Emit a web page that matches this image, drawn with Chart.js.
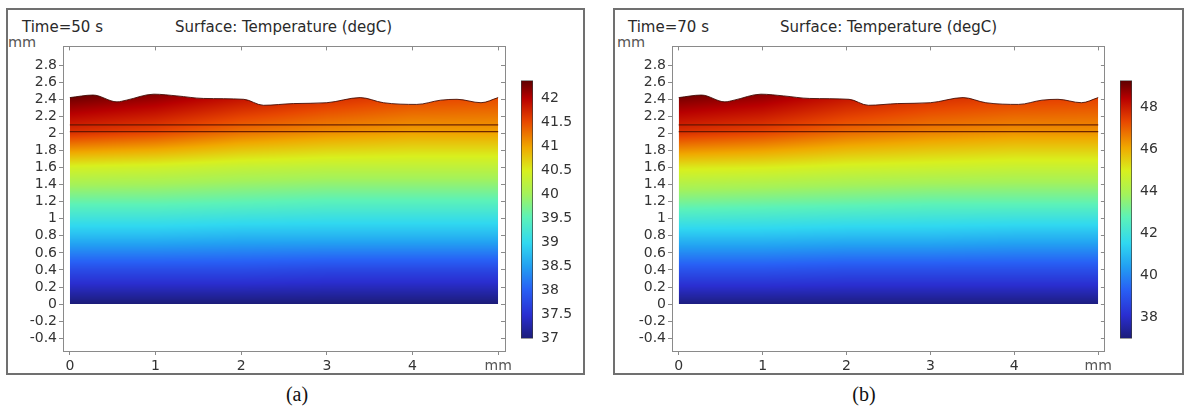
<!DOCTYPE html>
<html>
<head>
<meta charset="utf-8">
<script src="https://cdn.jsdelivr.net/npm/chart.js@4/dist/chart.umd.min.js"></script>
<style>
  html, body { margin: 0; padding: 0; background: #fff; }
  body { width: 1186px; height: 409px; position: relative; overflow: hidden;
         font-family: "DejaVu Sans", sans-serif; color: #2a2a2a; }
  .frame { position: absolute; top: 8px; height: 367px; border: 2px solid #707070; box-sizing: border-box; }
  .lbl { position: absolute; font-size: 14px; line-height: 14px; white-space: nowrap; }
  .ttl { font-size: 15px; line-height: 15px; }
  .unit { color: #555; font-size: 14.5px; }
  .cap { position: absolute; top: 384px; font-family: "Liberation Serif", "Times New Roman", serif;
         font-size: 20px; line-height: 20px; transform: translateX(-50%); color: #111; }
  canvas { position: absolute; }
</style>
</head>
<body>
<div class="frame" style="left:6px;width:579px"></div>
<div class="frame" style="left:613px;width:571px"></div>

<div class="lbl ttl" style="left:22px;top:20px">Time=50 s</div>
<div class="lbl ttl" style="left:175px;top:20px">Surface: Temperature (degC)</div>
<div class="lbl unit" style="left:8px;top:35px">mm</div>

<div class="lbl ttl" style="left:628px;top:20px">Time=70 s</div>
<div class="lbl ttl" style="left:780px;top:20px">Surface: Temperature (degC)</div>
<div class="lbl unit" style="left:617px;top:35px">mm</div>

<canvas id="field50" width="492" height="340" style="left:23px;top:36px"></canvas>
<canvas id="bar50" width="60" height="291" style="left:521px;top:64px"></canvas>
<canvas id="field70" width="483" height="340" style="left:632px;top:36px"></canvas>
<canvas id="bar70" width="60" height="291" style="left:1120px;top:64px"></canvas>

<div class="cap" style="left:297px">(a)</div>
<div class="cap" style="left:864px">(b)</div>

<script>
// ---- axis ticks ----
const xTickValues = [0, 1, 2, 3, 4, 5];
const xTickLabels = ['0', '1', '2', '3', '4', 'mm'];
const yTickValues = [-0.4, -0.2, 0, 0.2, 0.4, 0.6, 0.8, 1, 1.2, 1.4, 1.6, 1.8, 2, 2.2, 2.4, 2.6, 2.8];

// ---- geometry of the tissue domain (mm) ----
const surfaceX = [0, 0.27, 0.55, 0.66, 0.98, 1.25, 1.56, 2.03, 2.26, 2.61, 3.0, 3.39, 3.66, 4.05, 4.33, 4.52, 4.8, 5.0];
const surfaceY = [2.42, 2.45, 2.37, 2.39, 2.46, 2.44, 2.41, 2.40, 2.33, 2.35, 2.36, 2.42, 2.36, 2.34, 2.39, 2.40, 2.36, 2.42];
const interfaceLevels = [2.02, 2.1];

// ---- temperature readings (degC): one column per x position, rows by height ----
const fieldX = [0, 1, 2, 3, 4, 5];
const fieldHeights = [0, 0.4, 0.8, 1.2, 1.6, 2.0, 2.45];
const temp50s = [
  [37.0, 37.8, 38.75, 39.6, 40.45, 41.65, 42.35],
  [37.0, 37.8, 38.75, 39.6, 40.4, 41.5, 42.2],
  [37.0, 37.8, 38.7, 39.55, 40.3, 41.25, 41.95],
  [37.0, 37.75, 38.7, 39.5, 40.25, 41.1, 41.75],
  [37.0, 37.75, 38.7, 39.5, 40.25, 41.0, 41.6],
  [37.0, 37.75, 38.7, 39.5, 40.25, 41.0, 41.55]
];
const temp70s = [
  [37.1, 39.0, 41.1, 43.2, 45.1, 47.6, 49.1],
  [37.1, 39.0, 41.1, 43.1, 45.0, 47.3, 48.8],
  [37.1, 38.9, 41.0, 43.0, 44.8, 46.8, 48.2],
  [37.1, 38.9, 41.0, 42.9, 44.7, 46.5, 47.8],
  [37.1, 38.9, 40.9, 42.9, 44.6, 46.3, 47.6],
  [37.1, 38.9, 40.9, 42.9, 44.6, 46.3, 47.5]
];

// ---- colour legends ----
const range50 = [37, 42.38];
const range70 = [37, 49.27];
const ticks50 = [37, 37.5, 38, 38.5, 39, 39.5, 40, 40.5, 41, 41.5, 42];
const ticks70 = [38, 40, 42, 44, 46, 48];

// rainbow colour table
const RAINBOW = [
  [0.00, '#1c1c78'], [0.09, '#2a2ed0'], [0.19, '#2860f5'], [0.28, '#22a0f2'],
  [0.37, '#30d8f0'], [0.47, '#5cf2b8'], [0.56, '#a4f25a'], [0.65, '#d8f01e'],
  [0.74, '#f0a800'], [0.84, '#e84800'], [0.93, '#b80000'], [1.00, '#5c0000']
];
const AXIS = '#8a8a8a';
const TEXT = '#333333';
const FONT = { family: 'DejaVu Sans', size: 14 };

const rainbowRgb = RAINBOW.map(([t, c]) => [t, [1, 3, 5].map(i => parseInt(c.slice(i, i + 2), 16))]);
function rainbow(t) {
  t = Math.min(1, Math.max(0, t));
  for (let i = 0; i < rainbowRgb.length - 1; i++) {
    const [t0, c0] = rainbowRgb[i], [t1, c1] = rainbowRgb[i + 1];
    if (t <= t1) {
      const f = (t - t0) / (t1 - t0);
      return c0.map((v, k) => Math.round(v + (c1[k] - v) * f));
    }
  }
  return rainbowRgb[rainbowRgb.length - 1][1];
}

function locate(arr, v) {
  v = Math.min(arr[arr.length - 1], Math.max(arr[0], v));
  let i = 0;
  while (i < arr.length - 2 && v > arr[i + 1]) i++;
  return [i, (v - arr[i]) / (arr[i + 1] - arr[i])];
}
function tempAt(temps, xv, yv) {
  const [i, fx] = locate(fieldX, xv);
  const [j, fy] = locate(fieldHeights, yv);
  const a = temps[i][j] + (temps[i][j + 1] - temps[i][j]) * fy;
  const b = temps[i + 1][j] + (temps[i + 1][j + 1] - temps[i + 1][j]) * fy;
  return a + (b - a) * fx;
}

// shaded temperature field, painted through the chart's own scales
function fieldPattern(chart, temps, range) {
  const area = chart.chartArea;
  if (!area) return 'rgba(0,0,0,0)';
  const key = [area.left, area.top, area.right, area.bottom].join(',');
  if (chart.$fieldKey === key) return chart.$fieldPattern;
  const xs = chart.scales.x, ys = chart.scales.y;
  const w = chart.canvas.width, h = chart.canvas.height;
  const off = document.createElement('canvas');
  off.width = w; off.height = h;
  const octx = off.getContext('2d');
  const img = octx.createImageData(w, h);
  const x0 = Math.max(0, Math.floor(xs.getPixelForValue(fieldX[0])) - 1);
  const x1 = Math.min(w, Math.ceil(xs.getPixelForValue(fieldX[fieldX.length - 1])) + 2);
  const y0 = Math.max(0, Math.floor(ys.getPixelForValue(2.6)));
  const y1 = Math.min(h, Math.ceil(ys.getPixelForValue(0)) + 2);
  for (let py = y0; py < y1; py++) {
    const yv = ys.getValueForPixel(py + 0.5);
    for (let px = x0; px < x1; px++) {
      const xv = xs.getValueForPixel(px + 0.5);
      const c = rainbow((tempAt(temps, xv, yv) - range[0]) / (range[1] - range[0]));
      const k = (py * w + px) * 4;
      img.data[k] = c[0]; img.data[k + 1] = c[1]; img.data[k + 2] = c[2]; img.data[k + 3] = 255;
    }
  }
  octx.putImageData(img, 0, 0);
  const pattern = chart.ctx.createPattern(off, 'no-repeat');
  chart.$fieldKey = key;
  chart.$fieldPattern = pattern;
  return pattern;
}

function fixedTicks(values) {
  return scale => { scale.ticks = values.map(v => ({ value: v })); };
}

function fieldChart(id, temps, range) {
  const last = surfaceX.length - 1;
  const datasets = [{
    data: surfaceX.map((x, i) => ({ x, y: surfaceY[i] })),
    borderColor: 'rgba(60,8,0,0.85)', borderWidth: 1, pointRadius: 0,
    tension: 0.4, cubicInterpolationMode: 'monotone', fill: 'origin', order: 1,
    backgroundColor: ctx => fieldPattern(ctx.chart, temps, range)
  }];
  // layer interfaces drawn on top of the shaded field
  interfaceLevels.forEach(lv => datasets.push({
    data: [{ x: surfaceX[0], y: lv }, { x: surfaceX[last], y: lv }],
    borderColor: 'rgba(85,18,0,0.85)', borderWidth: 1.2, pointRadius: 0, fill: false, order: 0
  }));
  return new Chart(document.getElementById(id), {
    type: 'line',
    data: { datasets },
    options: {
      responsive: false, animation: false, events: [],
      layout: { padding: { top: 6, right: 10, left: 0, bottom: 0 } },
      plugins: { legend: { display: false }, tooltip: { enabled: false } },
      scales: {
        x: {
          type: 'linear', min: -0.08, max: 5.08,
          afterBuildTicks: fixedTicks(xTickValues), afterFit: s => { s.height = 25; },
          grid: { drawOnChartArea: false, tickLength: 4, color: AXIS },
          border: { color: AXIS },
          ticks: {
            autoSkip: false, maxRotation: 0, padding: 3,
            color: c => (c.tick && c.tick.value === 5 ? '#555' : TEXT), font: FONT,
            callback: v => xTickLabels[xTickValues.indexOf(v)]
          }
        },
        y: {
          type: 'linear', min: -0.55, max: 3.02,
          afterBuildTicks: fixedTicks(yTickValues), afterFit: s => { s.width = 40; },
          grid: { drawOnChartArea: false, tickLength: 4, color: AXIS },
          border: { color: AXIS },
          ticks: { autoSkip: false, padding: 2, color: TEXT, font: FONT, callback: v => String(+v.toFixed(1)) }
        },
        x2: {
          type: 'linear', position: 'top', min: -0.08, max: 5.08,
          afterBuildTicks: fixedTicks(xTickValues), afterFit: s => { s.height = 0; },
          grid: { drawOnChartArea: false, tickLength: -4, color: AXIS },
          border: { color: AXIS }, ticks: { display: false }
        },
        y2: {
          type: 'linear', position: 'right', min: -0.55, max: 3.02,
          afterBuildTicks: fixedTicks(yTickValues), afterFit: s => { s.width = 0; },
          grid: { drawOnChartArea: false, tickLength: -4, color: AXIS },
          border: { color: AXIS }, ticks: { display: false }
        }
      }
    }
  });
}

function barGradient(chart, range) {
  if (!chart.chartArea) return 'rgba(0,0,0,0)';
  const ys = chart.scales.y;
  const g = chart.ctx.createLinearGradient(0, ys.getPixelForValue(range[0]), 0, ys.getPixelForValue(range[1]));
  RAINBOW.forEach(([t, c]) => g.addColorStop(t, c));
  return g;
}

function colorbarChart(id, range, ticks) {
  return new Chart(document.getElementById(id), {
    type: 'bar',
    data: {
      labels: ['T'],
      datasets: [{
        data: [[range[0], range[1]]],
        backgroundColor: ctx => barGradient(ctx.chart, range),
        borderColor: '#3a3a3a', borderWidth: 1, borderSkipped: false,
        barPercentage: 1, categoryPercentage: 1
      }]
    },
    options: {
      responsive: false, animation: false, events: [],
      layout: { padding: { top: 10, bottom: 10, left: 0, right: 0 } },
      plugins: { legend: { display: false }, tooltip: { enabled: false } },
      scales: {
        x: { display: false },
        y: {
          position: 'right', min: range[0], max: range[1],
          afterBuildTicks: fixedTicks(ticks), afterFit: s => { s.width = 48; },
          grid: { display: false, drawTicks: false }, border: { display: false },
          ticks: { autoSkip: false, padding: 8, color: TEXT, font: FONT, callback: v => String(v) }
        }
      }
    }
  });
}

fieldChart('field50', temp50s, range50);
colorbarChart('bar50', range50, ticks50);
fieldChart('field70', temp70s, range70);
colorbarChart('bar70', range70, ticks70);
</script>
</body>
</html>
